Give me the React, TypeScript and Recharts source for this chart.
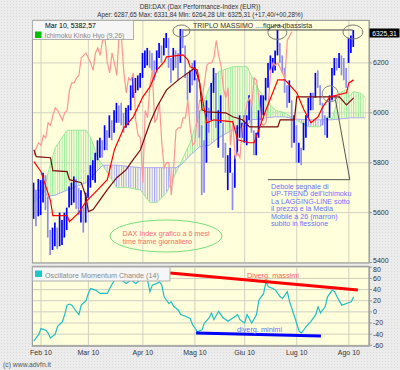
import React from 'react';
import {
  ComposedChart,
  Line,
  Area,
  Bar,
  Cell,
  XAxis,
  YAxis,
  CartesianGrid,
  ReferenceLine,
  ReferenceDot,
} from 'recharts';

const FONT = '"Liberation Sans", Arial, sans-serif';

// daily bars, one per weekday from 27 Jan 2010 (index 0) to 4 Aug 2010 (index 135)
const highs = [
  5720, 5690, 5735, 5730, 5760, 5750, 5664, 5530, 5540, 5560,
  5540, 5600, 5570, 5600, 5620, 5705, 5720, 5745, 5735, 5700,
  5690, 5620, 5680, 5750, 5790, 5810, 5840, 5890, 5900, 5890,
  5950, 5930, 5990, 5970, 6010, 6040, 6030, 6040, 6000, 6020,
  6030, 6110, 6145, 6140, 6150, 6160, 6240, 6250, 6260, 6250,
  6240, 6210, 6250, 6280, 6270, 6300, 6320, 6300, 6220, 6260,
  6250, 6240, 6336, 6330, 6270, 6160, 6170, 6200, 6210, 6140,
  6010, 5950, 5890, 6050, 6020, 6120, 6180, 6160, 6010, 6070,
  5960, 5880, 5830, 5860, 5760, 5830, 5950, 5990, 5960, 5990,
  5990, 6070, 6040, 5930, 5920, 6010, 6070, 6070, 6140, 6200,
  6230, 6220, 6250, 6332, 6280, 6230, 6180, 6110, 6130, 6050,
  5990, 5950, 5880, 5860, 5960, 5990, 6060, 6080, 6080, 6160,
  6170, 6110, 6040, 5990, 5980, 6070, 6180, 6220, 6220, 6240,
  6230, 6220, 6180, 6300, 6310, 6332,
];
const lows = [
  5575, 5545, 5585, 5590, 5640, 5610, 5500, 5430, 5450, 5465,
  5455, 5465, 5470, 5500, 5530, 5620, 5630, 5640, 5615, 5590,
  5560, 5520, 5560, 5660, 5700, 5730, 5720, 5810, 5820, 5820,
  5850, 5850, 5900, 5890, 5920, 5960, 5960, 5950, 5920, 5940,
  5950, 6010, 6060, 6080, 6090, 6100, 6140, 6180, 6190, 6180,
  6170, 6130, 6170, 6220, 6200, 6230, 6260, 6180, 6120, 6170,
  6180, 6130, 6200, 6260, 6140, 6050, 6080, 6110, 6130, 5960,
  5900, 5670, 5680, 5800, 5920, 5970, 6080, 5940, 5860, 5960,
  5820, 5760, 5690, 5760, 5610, 5700, 5830, 5900, 5900, 5880,
  5870, 5970, 5920, 5830, 5830, 5900, 5970, 5990, 6050, 6100,
  6170, 6160, 6170, 6230, 6200, 6160, 6080, 6020, 6040, 5860,
  5880, 5800, 5800, 5790, 5850, 5900, 5980, 6010, 6010, 6060,
  6100, 6030, 5950, 5910, 5900, 5980, 6050, 6150, 6170, 6180,
  6150, 6130, 6100, 6200, 6240, 6264,
];
const closes = [
  5640, 5600, 5610, 5690, 5700, 5670, 5530, 5440, 5490, 5520,
  5480, 5500, 5500, 5530, 5600, 5680, 5700, 5720, 5650, 5610,
  5620, 5540, 5600, 5740, 5780, 5790, 5830, 5860, 5880, 5870,
  5910, 5900, 5960, 5950, 5990, 6020, 6010, 5990, 5970, 6000,
  6010, 6090, 6120, 6120, 6140, 6150, 6220, 6230, 6240, 6220,
  6200, 6170, 6240, 6260, 6230, 6290, 6300, 6200, 6160, 6240,
  6200, 6150, 6320, 6300, 6160, 6080, 6140, 6130, 6160, 5970,
  5910, 5900, 5720, 6010, 5980, 6110, 6170, 5960, 5980, 6040,
  5880, 5780, 5800, 5800, 5670, 5780, 5930, 5940, 5940, 5980,
  5980, 6050, 5940, 5870, 5880, 5990, 6050, 6050, 6120, 6190,
  6200, 6200, 6220, 6290, 6230, 6190, 6100, 6060, 6100, 5870,
  5970, 5820, 5840, 5820, 5940, 5980, 6040, 6060, 6030, 6140,
  6130, 6060, 5960, 5950, 5960, 6040, 6170, 6200, 6190, 6200,
  6180, 6160, 6140, 6290, 6308, 6325.31,
];

// Ichimoku lines: [day index, value]
const tenkanPts: [number, number][] = [
  [0, 5804], [3, 5764], [7, 5648], [8, 5588], [14, 5588], [15, 5564], [19, 5600],
  [22, 5644], [27, 5692], [31, 5732], [34, 5852], [38, 5940], [42, 5984], [46, 6064],
  [49, 6104], [52, 6172], [55, 6204], [56, 6224], [63, 6232], [65, 6212], [66, 6184],
  [69, 6172], [71, 6064], [73, 5960], [76, 5972], [84, 5964], [86, 5892], [91, 5880],
  [93, 5880], [98, 6012], [103, 6132], [106, 6132], [111, 6080], [114, 6012],
  [117, 5960], [120, 5984], [122, 6024], [125, 6064], [132, 6080], [133, 6120], [135, 6132],
];
const kijunPts: [number, number][] = [
  [0, 5852], [1, 5824], [7, 5820], [8, 5768], [14, 5764], [15, 5732], [20, 5720],
  [22, 5664], [23, 5604], [25, 5612], [28, 5652], [31, 5692], [35, 5740], [39, 5772],
  [41, 5800], [45, 5852], [49, 5960], [52, 6024], [56, 6092], [61, 6132], [65, 6160],
  [68, 6180], [70, 6120], [71, 6012], [73, 6004], [81, 6000], [84, 5984], [88, 5972],
  [91, 5944], [103, 5944], [104, 5972], [110, 5972], [111, 6064], [129, 6064],
  [132, 6032], [135, 6060],
];

// cloud (senkou A / senkou B), shifted 26 days forward
const cloudIdx = [
  0, 4, 6, 9, 14, 22, 24, 27, 29, 31, 35, 40, 45, 49, 52, 56, 58, 60, 62, 66, 70,
  74, 78, 84, 88, 90, 92, 95, 98, 102, 106, 110, 116, 121, 124, 126, 129, 132, 133,
  135, 138, 140,
];
const cloudA = [
  5640, 5680, 5760, 5860, 5930, 5930, 5900, 5820, 5790, 5760, 5700, 5700, 5690, 5640,
  5640, 5680, 5720, 5760, 5800, 5880, 6000, 6100, 6165, 6185, 6185, 6185, 6145, 6090,
  6050, 6010, 6000, 5975, 5944, 5944, 5985, 5975, 6080, 6092, 6065, 6085, 6078, 6060,
];
const cloudB = [
  5690, 5690, 5665, 5670, 5690, 5720, 5740, 5770, 5790, 5790, 5790, 5785, 5780, 5780,
  5780, 5780, 5780, 5780, 5790, 5830, 5864, 5870, 5900, 5932, 5944, 5950, 5972, 5975,
  5980, 5984, 5984, 5975, 5972, 5972, 5972, 5972, 5975, 5978, 5980, 5980, 5980, 5980,
];

// Chande momentum oscillator (14)
const cmoPts: [number, number][] = [
  [0, -52], [2, -41], [3, -30], [5, -33], [6, -38], [7, -47], [9, -40], [10, -26],
  [12, -18], [13, -5], [14, 12], [15, 14], [16, 12], [17, 6], [19, -5], [20, 12],
  [22, 20], [23, 33], [24, 42], [26, 39], [28, 33], [31, 33], [32, 42], [34, 57],
  [36, 66], [37, 57], [39, 51], [41, 57], [43, 51], [45, 57], [47, 66], [48, 57],
  [49, 36], [50, 48], [52, 51], [53, 54], [54, 48], [55, 27], [57, 15], [58, 18],
  [59, 10], [61, 3], [62, -5], [64, -8], [66, -12], [67, -23], [68, -29], [69, -36],
  [71, -32], [72, -20], [74, -11], [75, -2], [76, -14], [78, 1], [80, -11], [82, -17],
  [84, -11], [86, -5], [87, -14], [89, -20], [90, -5], [92, -20], [94, -5], [95, 21],
  [97, 33], [98, 54], [99, 45], [101, 42], [102, 39], [104, 27], [105, 24], [107, 36],
  [108, 18], [110, -8], [112, -35], [113, -38], [115, -26], [117, -17], [119, -5],
  [120, 9], [121, -2], [123, 9], [124, 27], [126, 39], [127, 36], [128, 27], [130, 12],
  [132, 15], [134, 18], [135, 27],
];

const monthIdx = [3, 23, 46, 68, 89, 111, 133];
const monthLabels = ['Feb 10', 'Mar 10', 'Apr 10', 'Mag 10', 'Giu 10', 'Lug 10', 'Ago 10'];
const priceTicks = [5400, 5600, 5800, 6000, 6200];
const cmoTicks = [-60, -40, -20, 0, 20, 40, 60, 80];

const xDomain: [number, number] = [-0.8, 141.5];
const priceDomain: [number, number] = [5398, 6372];
const cmoDomain: [number, number] = [-61.3, 82.3];

const tenkanMap = new Map(tenkanPts);
const kijunMap = new Map(kijunPts);

const rows = highs.map((h, i) => ({
  i,
  range: [lows[i], h],
  up: i === 0 || closes[i] >= closes[i - 1],
  chikou: i + 26 < closes.length ? closes[i + 26] : null,
  tenkan: tenkanMap.has(i) ? tenkanMap.get(i) : null,
  kijun: kijunMap.has(i) ? kijunMap.get(i) : null,
}));

const cloudRows = cloudIdx.map((i, k) => {
  const a = cloudA[k];
  const b = cloudB[k];
  const top = Math.max(a, b);
  return { i, a, b, green: [b, top], lav: [a, top] };
});

const cmoRows = cmoPts.map(([i, v]) => ({ i, v }));

const axisTick = { fontSize: 7, fill: '#333', fontFamily: FONT };

// right-axis tick label; the two labels where the panels meet are nudged apart
const sideTick = (nudge: Record<number, number>) => (p: any) => (
  <text x={p.x} y={p.y} dy={2.5 + (nudge[p.payload.value] ?? 0)} fontSize={7} fill="#333" fontFamily={FONT}>
    {p.payload.value}
  </text>
);

const ellipse = (rx: number, ry: number, stroke = '#777') => (p: any) => (
  <ellipse cx={p.cx} cy={p.cy} rx={rx} ry={ry} fill="none" stroke={stroke} strokeWidth={1} />
);

const abs = (top: number): React.CSSProperties => ({ position: 'absolute', left: 0, top });

export default function App() {
  return (
    <div
      style={{
        position: 'absolute',
        left: 0,
        top: 0,
        width: 400,
        height: 370,
        overflow: 'hidden',
        fontFamily: FONT,
        backgroundColor: '#ececec',
        backgroundImage: 'radial-gradient(circle, #d9d9d9 0.6px, transparent 0.9px)',
        backgroundSize: '3px 3px',
      }}
    >
      <svg width={0} height={0} style={{ position: 'absolute' }}>
        <defs>
          <pattern id="hatchG" patternUnits="userSpaceOnUse" width={2.37} height={6}>
            <rect x={0} y={0} width={1} height={6} fill="#9aeb9a" />
          </pattern>
          <pattern id="hatchL" patternUnits="userSpaceOnUse" width={2.37} height={6}>
            <rect x={0} y={0} width={1} height={6} fill="#a2a2f2" />
          </pattern>
        </defs>
      </svg>

      {/* cloud + grid + price axis */}
      <div style={abs(0)}>
        <ComposedChart width={400} height={270} data={cloudRows} margin={{ top: 20, right: 0, bottom: 7, left: 32 }}>
          <CartesianGrid fill="#ffffdc" stroke="#d2d2c6" vertical={false} />
          <XAxis dataKey="i" type="number" domain={xDomain} hide allowDataOverflow />
          <YAxis
            orientation="right"
            domain={priceDomain}
            ticks={priceTicks}
            interval={0}
            width={31}
            allowDataOverflow
            tick={sideTick({ 5400: -2.5 })}
            tickSize={3}
            tickMargin={1}
            stroke="#999"
          />
          {monthIdx.map((m) => (
            <ReferenceLine key={m} x={m} stroke="#d2d2c6" />
          ))}
          <Area type="linear" dataKey="green" fill="url(#hatchG)" fillOpacity={1} stroke="none" isAnimationActive={false} />
          <Area type="linear" dataKey="lav" fill="url(#hatchL)" fillOpacity={1} stroke="none" isAnimationActive={false} />
          <Line type="linear" dataKey="a" stroke="#9be89b" strokeWidth={1} dot={false} isAnimationActive={false} />
          <Line type="linear" dataKey="b" stroke="#a8a8f4" strokeWidth={1} dot={false} isAnimationActive={false} />
        </ComposedChart>
      </div>

      {/* price bars + ichimoku lines */}
      <div style={abs(0)}>
        <ComposedChart width={400} height={270} data={rows} margin={{ top: 20, right: 31, bottom: 7, left: 32 }}>
          <XAxis dataKey="i" type="number" domain={xDomain} hide allowDataOverflow />
          <YAxis domain={priceDomain} hide allowDataOverflow />
          <Line type="linear" dataKey="chikou" stroke="#ff9494" strokeWidth={1.2} dot={false} isAnimationActive={false} />
          <Bar dataKey="range" barSize={1.7} isAnimationActive={false}>
            {rows.map((r) => (
              <Cell key={r.i} fill={r.up ? '#0000ff' : '#8c8cf2'} />
            ))}
          </Bar>
          <Line type="linear" dataKey="kijun" stroke="#7a0a0a" strokeWidth={1.2} dot={false} connectNulls isAnimationActive={false} />
          <Line type="linear" dataKey="tenkan" stroke="#ff0000" strokeWidth={1.2} dot={false} connectNulls isAnimationActive={false} />
          <ReferenceLine segment={[{ x: 62.3, y: 6332 }, { x: 134.6, y: 6332 }]} stroke="#444" />
          <ReferenceDot x={62.3} y={6328} shape={ellipse(8.5, 6)} />
          <ReferenceDot x={102.8} y={6322} shape={ellipse(9.5, 7)} />
          <ReferenceDot x={134.7} y={6324} shape={ellipse(10, 7)} />
          <ReferenceDot x={125.1} y={6076} shape={ellipse(8, 8, '#888')} />
          <ReferenceLine segment={[{ x: 127.1, y: 6064 }, { x: 133.4, y: 5732 }]} stroke="#555" />
          <ReferenceLine segment={[{ x: 98.8, y: 5732 }, { x: 133.4, y: 5732 }]} stroke="#555" />
        </ComposedChart>
      </div>

      {/* momentum oscillator */}
      <div style={abs(258)}>
        <ComposedChart width={400} height={112} data={cmoRows} margin={{ top: 8, right: 0, bottom: 0, left: 32 }}>
          <CartesianGrid fill="#ffffdc" stroke="#cfcfc2" />
          <XAxis
            dataKey="i"
            type="number"
            domain={xDomain}
            ticks={monthIdx}
            interval={0}
            allowDataOverflow
            height={24}
            tickSize={2}
            tickLine={false}
            stroke="#999"
            tick={axisTick}
            tickFormatter={(v: number) => monthLabels[monthIdx.indexOf(v)] ?? ''}
          />
          <YAxis
            orientation="right"
            domain={cmoDomain}
            ticks={cmoTicks}
            interval={0}
            width={31}
            allowDataOverflow
            tick={sideTick({ 80: 1.8 })}
            tickSize={3}
            tickMargin={1}
            stroke="#999"
          />
          <Line type="linear" dataKey="v" stroke="#1cbfc4" strokeWidth={1.2} dot={false} isAnimationActive={false} />
          <ReferenceLine segment={[{ x: 57.5, y: 69.8 }, { x: 136.8, y: 39.3 }]} stroke="#ff0000" strokeWidth={3} />
          <ReferenceLine segment={[{ x: 68.5, y: -37.9 }, { x: 121.2, y: -43.3 }]} stroke="#0000ff" strokeWidth={3} />
        </ComposedChart>
      </div>

      {/* texts, legends, frames */}
      <svg width={400} height={370} style={{ position: 'absolute', left: 0, top: 0, pointerEvents: 'none' }} fontFamily={FONT}>
        <text x={200} y={9} textAnchor="middle" fontSize={6.5} fill="#333">
          DBI:DAX (Dax Performance-Index (EUR))
        </text>
        <text x={200} y={17} textAnchor="middle" fontSize={6.3} fill="#333">
          Aper: 6287,65 Max: 6331,84 Min: 6264,28 Ult: 6325,31 (+17,40/+00,28%)
        </text>

        <rect x={32.5} y={20.5} width={337} height={242.5} fill="none" stroke="#a0a0a0" />
        <rect x={32.5} y={266.5} width={337} height={79.5} fill="none" stroke="#a0a0a0" />

        <rect x={32.5} y={20.5} width={101} height={19} fill="#f6f6f6" stroke="#b0b0b0" />
        <text x={45} y={28} fontSize={7} fill="#000">Mar 10, 5382,57</text>
        <rect x={35} y={31.5} width={6.5} height={6.5} fill="#00c000" />
        <text x={44.5} y={37.5} fontSize={6.8} fill="#888">Ichimoku Kinko Hyo (9,26)</text>

        <text x={193} y={28} fontSize={7} fill="#333">TRIPLO MASSIMO ....figura ribassista</text>

        <rect x={369.5} y={28.5} width={30} height={9} fill="#000" />
        <text x={384.5} y={35.8} textAnchor="middle" fontSize={6.8} fill="#fff">6325,31</text>

        {['Debole segnale di', "UP-TREND dell'Ichimoku", 'La LAGGING-LINE sotto', 'il prezzo e la Media', 'Mobile a 26 (marron)', 'subito in flessione'].map(
          (t, k) => (
            <text key={k} x={271} y={188.5 + k * 7.5} fontSize={7.2} fill="#6e6eff">
              {t}
            </text>
          ),
        )}

        <ellipse cx={166} cy={236} rx={56} ry={16} fill="none" stroke="#7adc7a" />
        <text x={122.5} y={235.5} fontSize={7.2} fill="#ff6a6a">DAX Index grafico a 6 mesi</text>
        <text x={122.5} y={243.5} fontSize={7.2} fill="#ff6a6a">time frame giornaliero</text>

        <rect x={32.5} y={267} width={137.5} height={14} fill="#f6f6f6" stroke="#b0b0b0" />
        <rect x={35} y={270.5} width={7} height={6.5} fill="#1cc7c7" />
        <text x={45} y={277.5} fontSize={7.2} fill="#888">Oscillatore Momentum Chande (14)</text>

        <text x={247} y={277.5} fontSize={7.3} fill="#ff6060">Diverg. massimi</text>
        <text x={237} y={331.5} fontSize={7.3} fill="#6a6aff">diverg. minimi</text>

        <text x={3} y={367} fontSize={6.8} fill="#555">(c) www.advfn.it</text>
      </svg>
    </div>
  );
}
